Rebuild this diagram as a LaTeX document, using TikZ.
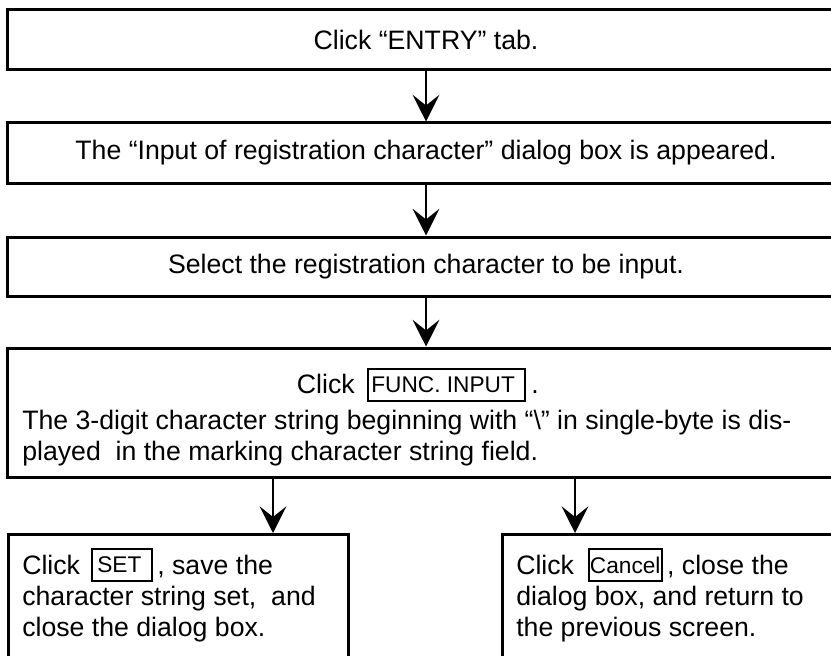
\documentclass[tikz,border=0pt]{standalone}
\usepackage{fontspec}
\setmainfont{Liberation Sans}
\usetikzlibrary{arrows.meta}
\newcommand{\bodyfont}{\fontsize{20pt}{23pt}\selectfont}
\newcommand{\btnfont}{\fontsize{17pt}{19pt}\selectfont}
\begin{document}
\begin{tikzpicture}[x=0.75pt,y=-0.75pt,
  box/.style={draw, line width=2.25pt, inner sep=0pt, font=\bodyfont},
  flow/.style={line width=1.5pt, -{Stealth[length=20pt,width=20pt,inset=8pt]}},
  btn/.style={draw, line width=1.5pt, inner xsep=2.5pt, inner ysep=0pt, font=\btnfont, minimum height=24pt},
  txt/.style={font=\bodyfont, inner sep=0pt}]
\useasboundingbox (0,0) rectangle (831,656);
% main boxes
\node[box, minimum width=628.5pt, minimum height=45pt] (b1) at (426,40) {Click “ENTRY” tab.};
\node[box, minimum width=628.5pt, minimum height=45pt] (b2) at (426,153) {The “Input of registration character” dialog box is appeared.};
\node[box, minimum width=628.5pt, minimum height=44.25pt] (b3) at (426,266.5) {Select the registration character to be input.};
\node[box, minimum width=628.5pt, minimum height=96.75pt] (b4) at (426,412.5) {};
\node[box, minimum width=255pt, minimum height=140pt, anchor=north west] (b5) at (7,533) {};
\node[box, minimum width=258pt, minimum height=140pt, anchor=north west] (b6) at (501,533) {};
% box 4 text
\node[btn, anchor=north west] (bfunc) at (367,368) {FUNC. INPUT\hspace*{5pt}};
\node[txt, anchor=base east] (t4click) at ([xshift=-9pt]bfunc.west |- 0,393) {Click};
\node[txt, anchor=base west] (t4dot) at ([xshift=4pt]bfunc.east |- 0,393) {.};
\node[txt, anchor=base west] (t4b) at (22,429) {The 3-digit character string beginning with “\textbackslash” in single-byte is dis-};
\node[txt, anchor=base west] (t4c) at (22,460) {played\ \ in the marking character string field.};
% box 5 text
\node[txt, anchor=base west] (t5click) at (22,574) {Click};
\node[btn, anchor=west, inner xsep=4pt] (bset) at ([xshift=8pt]t5click.east |- 0,565) {SET\hspace*{4pt}};
\node[txt, anchor=base west] (t5a) at ([xshift=3pt]bset.east |- 0,574) {, save the};
\node[txt, anchor=base west] (t5b) at (22,605) {character string set,\ \ and};
\node[txt, anchor=base west] (t5c) at (22,636) {close the dialog box.};
% box 6 text
\node[txt, anchor=base west] (t6click) at (516,574) {Click};
\node[btn, anchor=west, inner xsep=1pt] (bcancel) at ([xshift=10pt]t6click.east |- 0,565) {Cancel};
\node[txt, anchor=base west] (t6a) at ([xshift=3pt]bcancel.east |- 0,574) {, close the};
\node[txt, anchor=base west] (t6b) at (516,605) {dialog box, and return to};
\node[txt, anchor=base west] (t6c) at (516,636) {the previous screen.};
% connectors
\draw[flow] (b1.south) -- (b2.north);
\draw[flow] (b2.south) -- (b3.north);
\draw[flow] (b3.south) -- (b4.north);
\draw[flow] (b4.south -| 273,0) -- (b5.north -| 273,0);
\draw[flow] (b4.south -| 575,0) -- (b6.north -| 575,0);
\end{tikzpicture}
\end{document}
